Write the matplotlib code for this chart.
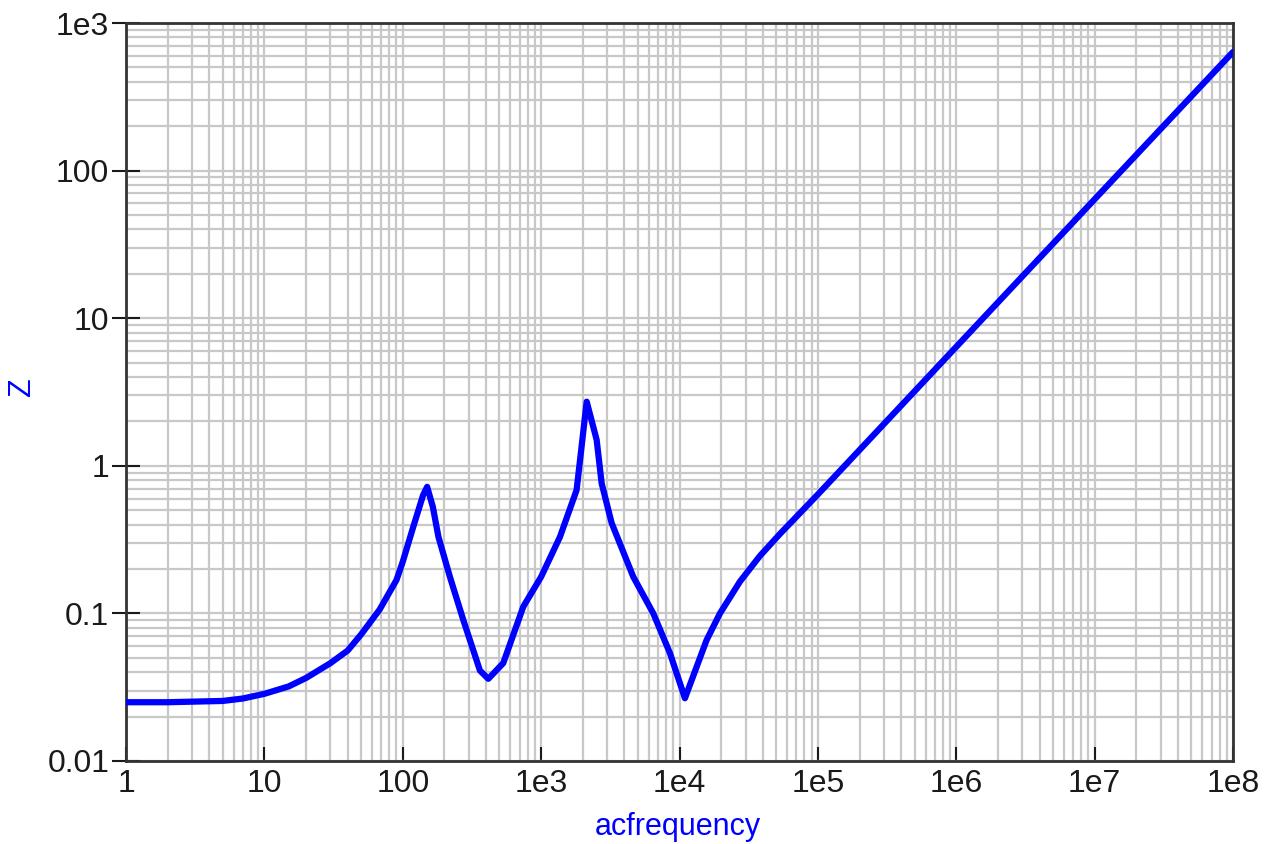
import matplotlib
matplotlib.use("Agg")
import matplotlib.pyplot as plt
from matplotlib.ticker import LogLocator, NullFormatter

# impedance sweep, Z vs ac frequency
freq = [1, 2, 5, 7, 10, 15, 20, 30, 40, 50, 68, 90, 100, 119, 140, 150, 165,
        181, 219, 274, 361, 415, 532, 743, 1000, 1368, 1804, 1960, 2133, 2518,
        2737, 3230, 4630, 6460, 8530, 10940, 15700, 19600, 27300, 38100,
        53100, 1e5, 1e6, 1e7, 1e8]
z = [0.025, 0.025, 0.0255, 0.0265, 0.0285, 0.032, 0.0365, 0.046, 0.056,
     0.072, 0.106, 0.168, 0.224, 0.385, 0.63, 0.72, 0.526, 0.33, 0.177, 0.09,
     0.041, 0.036, 0.046, 0.111, 0.177, 0.33, 0.685, 1.35, 2.72, 1.5, 0.76,
     0.41, 0.177, 0.1, 0.0537, 0.0266, 0.066, 0.1, 0.164, 0.245, 0.345, 0.64,
     6.4, 64, 637]

x_ticks = [1, 10, 100, 1e3, 1e4, 1e5, 1e6, 1e7, 1e8]
x_labels = ["1", "10", "100", "1e3", "1e4", "1e5", "1e6", "1e7", "1e8"]
y_ticks = [0.01, 0.1, 1, 10, 100, 1e3]
y_labels = ["0.01", "0.1", "1", "10", "100", "1e3"]

plt.rcParams["font.family"] = ["Liberation Sans", "DejaVu Sans"]

fig = plt.figure(figsize=(12.64, 8.44), dpi=100)
ax = fig.add_axes([0.0997, 0.0984, 0.8758, 0.8743])

ax.plot(freq, z, color="#0000ff", linewidth=4.5, solid_joinstyle="round",
        solid_capstyle="round", zorder=3)

ax.set_xscale("log")
ax.set_yscale("log")
ax.set_xlim(1, 1e8)
ax.set_ylim(0.01, 1e3)

ax.set_xticks(x_ticks, x_labels)
ax.set_yticks(y_ticks, y_labels)
ax.xaxis.set_minor_locator(LogLocator(base=10, subs=range(2, 10), numticks=20))
ax.yaxis.set_minor_locator(LogLocator(base=10, subs=range(2, 10), numticks=20))
ax.xaxis.set_minor_formatter(NullFormatter())
ax.yaxis.set_minor_formatter(NullFormatter())

# 网格：主次刻度同色
ax.grid(True, which="both", color="#c8c8c8", linewidth=1.6, zorder=1)
ax.set_axisbelow(True)

ax.tick_params(axis="x", which="major", direction="in", length=10, width=1.5,
               labelsize=23, pad=6, colors="#1a1a1a")
ax.tick_params(axis="y", which="major", direction="inout", length=20,
               width=1.5, labelsize=23, pad=2, colors="#1a1a1a")
ax.tick_params(which="minor", length=0)

for side in ax.spines.values():
    side.set_color("#333333")
    side.set_linewidth(2)

ax.set_xlabel("acfrequency", color="#0000ff", fontsize=22)
ax.set_ylabel("Z", color="#0000ff", fontsize=22)
ax.xaxis.set_label_coords(0.4986, -0.069)
ax.yaxis.set_label_coords(-0.0804, 0.507)

fig.savefig("out.png", dpi=100)
